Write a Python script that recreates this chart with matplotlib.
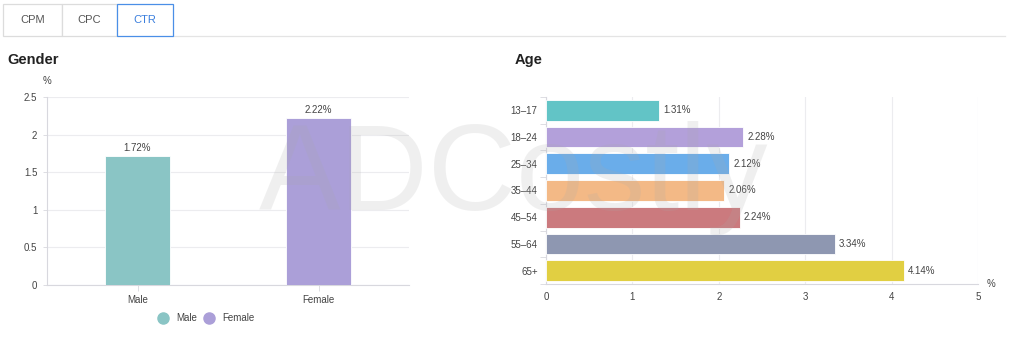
import matplotlib
matplotlib.use("Agg")
import matplotlib.pyplot as plt
from matplotlib.patches import Rectangle
from matplotlib.lines import Line2D

plt.rcParams["font.family"] = ["Liberation Sans", "DejaVu Sans"]

W, H = 1024, 350

tabs = ["CPM", "CPC", "CTR"]
active_tab = "CTR"

genders = ["Male", "Female"]
gender_ctr = [1.72, 2.22]
gender_colors = ["#8AC5C5", "#AB9FD8"]

ages = ["13–17", "18–24", "25–34", "35–44", "45–54", "55–64", "65+"]
age_ctr = [1.31, 2.28, 2.12, 2.06, 2.24, 3.34, 4.14]
age_colors = ["#62C4C6", "#B3A0DA", "#6AADEA", "#F3B986", "#CB7A7E", "#8E97B1", "#E1CF42"]

TEXT = "#444444"
GRID = "#ECECEF"
AXIS = "#D8D8DE"


def px_axes(fig, x0, y0, x1, y1):
    # pixel box (top-left origin) -> figure axes
    return fig.add_axes([x0 / W, 1 - y1 / H, (x1 - x0) / W, (y1 - y0) / H])


fig = plt.figure(figsize=(W / 100, H / 100), dpi=100)

# tab strip
tab_edges = [3, 62, 117, 173]
for i, name in enumerate(tabs):
    x0, x1 = tab_edges[i], tab_edges[i + 1]
    active = name == active_tab
    fig.patches.append(Rectangle((x0 / W, 1 - 36 / H), (x1 - x0) / W, 32 / H,
                                 transform=fig.transFigure, facecolor="white",
                                 edgecolor="#4A8FE7" if active else "#DCDCDC",
                                 linewidth=0.9, zorder=2 if active else 1))
    fig.text((x0 + x1) / 2 / W, 1 - 20 / H, name, ha="center", va="center",
             fontsize=8, color="#3B7FDD" if active else "#555555")
fig.lines.append(Line2D([173 / W, 1005 / W], [1 - 36 / H, 1 - 36 / H],
                        transform=fig.transFigure, color="#E4E4E4", linewidth=0.9))

fig.text(7 / W, 1 - 60 / H, "Gender", fontsize=10.5, fontweight="bold",
         color="#222222", va="center")
fig.text(515 / W, 1 - 60 / H, "Age", fontsize=10.5, fontweight="bold",
         color="#222222", va="center")

# gender column chart
ax1 = px_axes(fig, 47, 97, 409, 285)
xs = range(len(genders))
ax1.bar(xs, gender_ctr, width=0.36, color=gender_colors, edgecolor="white",
        linewidth=0.6, zorder=3)
for x, v in zip(xs, gender_ctr):
    ax1.text(x, v + 0.04, f"{v:.2f}%", ha="center", va="bottom", fontsize=7, color=TEXT)
ax1.set_xlim(-0.5, 1.5)
ax1.set_ylim(0, 2.5)
ax1.set_xticks(list(xs))
ax1.set_xticklabels(genders)
ax1.set_yticks([0, 0.5, 1, 1.5, 2, 2.5])
ax1.set_yticklabels(["0", "0.5", "1", "1.5", "2", "2.5"])
ax1.grid(axis="y", color=GRID, linewidth=0.8, zorder=0)
for s in ["top", "right"]:
    ax1.spines[s].set_visible(False)
ax1.spines["left"].set_color(AXIS)
ax1.spines["bottom"].set_color(AXIS)
ax1.tick_params(axis="both", labelsize=7, colors=TEXT, width=0.6)
ax1.tick_params(axis="y", length=3, color=AXIS, pad=4)
ax1.tick_params(axis="x", length=4, color=AXIS)
ax1.text(0, 1.06, "%", transform=ax1.transAxes, ha="center", va="bottom",
         fontsize=7, color=TEXT)

handles = [Line2D([], [], marker="o", linestyle="none", markersize=8,
                  markerfacecolor=c, markeredgecolor=c) for c in gender_colors]
fig.legend(handles, genders, loc="center", bbox_to_anchor=(204 / W, 1 - 318 / H),
           ncol=2, frameon=False, fontsize=7, handletextpad=0.3, columnspacing=0.3,
           labelcolor=TEXT)

# age bar chart
ax2 = px_axes(fig, 546, 97, 978, 284)
ys = range(len(ages))
ax2.barh(ys, age_ctr, height=0.78, color=age_colors, edgecolor="white",
         linewidth=0.6, zorder=3)
for y, v in zip(ys, age_ctr):
    ax2.text(v + 0.05, y, f"{v:.2f}%", ha="left", va="center", fontsize=7, color=TEXT)
ax2.set_ylim(len(ages) - 0.5, -0.5)
ax2.set_xlim(0, 5)
ax2.set_yticks(list(ys))
ax2.set_yticklabels(ages)
ax2.set_yticks([i - 0.5 for i in range(len(ages) + 1)], minor=True)
ax2.tick_params(axis="y", which="major", length=0, labelsize=7, colors=TEXT, pad=6)
ax2.tick_params(axis="y", which="minor", length=4, color=AXIS, width=0.6)
ax2.set_xticks([0, 1, 2, 3, 4, 5])
ax2.tick_params(axis="x", length=0, labelsize=7, colors=TEXT, pad=6)
ax2.grid(axis="x", color=GRID, linewidth=0.8, zorder=0)
for s in ["top", "right"]:
    ax2.spines[s].set_visible(False)
ax2.spines["left"].set_color(AXIS)
ax2.spines["bottom"].set_color(AXIS)
ax2.text(1.03, 0.0, "%", transform=ax2.transAxes, ha="center", va="center",
         fontsize=7, color=TEXT)

# watermark
fig.text(514 / W, 1 - 210 / H, "ADCostly", ha="center", va="baseline",
         fontsize=88, color="#AAAAAA", alpha=0.18, zorder=10)

fig.savefig("out.png", dpi=100)
